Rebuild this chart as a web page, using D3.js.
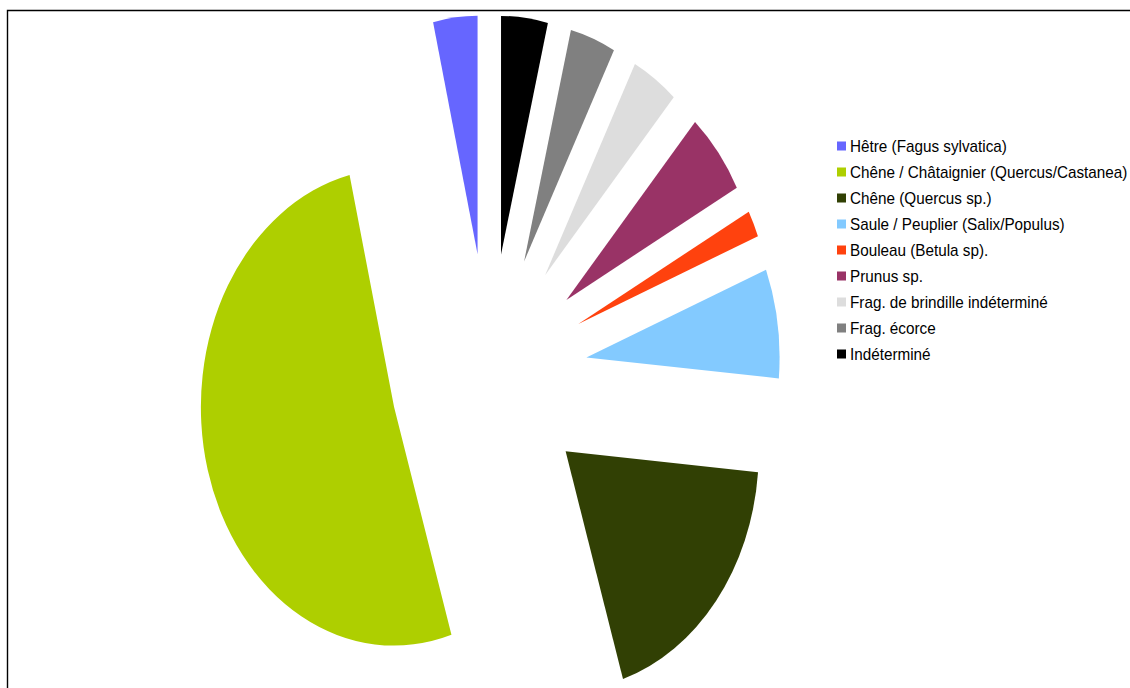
<!DOCTYPE html>
<html>
<head>
<meta charset="utf-8">
<script src="https://cdn.jsdelivr.net/npm/d3@7"></script>
<style>
  html, body { margin: 0; padding: 0; background: #fff; }
  svg { display: block; }
  text { font-family: "Liberation Sans", Arial, sans-serif; }
</style>
</head>
<body>
<svg id="chart" width="1130" height="688"></svg>
<script>
// Taxa identified (share of the assemblage, %)
const categories = [
  "Hêtre (Fagus sylvatica)",
  "Chêne / Châtaignier (Quercus/Castanea)",
  "Chêne (Quercus sp.)",
  "Saule / Peuplier (Salix/Populus)",
  "Bouleau (Betula sp).",
  "Prunus sp.",
  "Frag. de brindille indéterminé",
  "Frag. écorce",
  "Indéterminé"
];
const values = [3.7, 51.1, 18.8, 7.4, 1.8, 5.6, 3.9, 3.8, 3.9];
const colors = ["#6666FF", "#AECF00", "#314004", "#83CAFF", "#FF420E",
                "#993366", "#DDDDDD", "#808080", "#000000"];

const data = categories.map((c, i) => ({ name: c, value: values[i], color: colors[i] }));

const svg = d3.select("#chart");

// Outer frame (top and left edges visible)
svg.append("path")
  .attr("d", "M7.5,700 V10.5 H1140")
  .attr("fill", "none")
  .attr("stroke", "#000")
  .attr("stroke-width", 1.4);

// Exploded pie, drawn counter-clockwise from 12 o'clock, stretched into an ellipse
const cx = 489, cy = 375;
const radius = 238.5;
const explode = 121.5;
const xScale = 0.81;

const pie = d3.pie()
  .sort(null)
  .value(d => d.value)
  .startAngle(0)
  .endAngle(-2 * Math.PI);

const arc = d3.arc().innerRadius(0).outerRadius(radius);

const pieG = svg.append("g")
  .attr("transform", `translate(${cx},${cy}) scale(${xScale},1)`);

pieG.selectAll("path.slice")
  .data(pie(data))
  .join("path")
  .attr("class", "slice")
  .attr("d", arc)
  .attr("fill", d => d.data.color)
  .attr("transform", d => {
    const m = (d.startAngle + d.endAngle) / 2;
    return `translate(${explode * Math.sin(m)},${-explode * Math.cos(m)})`;
  });

// Legend
const legendX = 837, legendY0 = 146, legendStep = 26, box = 9;
const legend = svg.append("g");
const rows = legend.selectAll("g.row")
  .data(data)
  .join("g")
  .attr("class", "row")
  .attr("transform", (d, i) => `translate(${legendX},${legendY0 + i * legendStep})`);

rows.append("rect")
  .attr("x", 0)
  .attr("y", -box / 2)
  .attr("width", box)
  .attr("height", box)
  .attr("fill", d => d.color);

rows.append("text")
  .attr("transform", "translate(13,6) scale(0.955,1)")
  .attr("font-size", 16)
  .attr("fill", "#000")
  .text(d => d.name);
</script>
</body>
</html>
